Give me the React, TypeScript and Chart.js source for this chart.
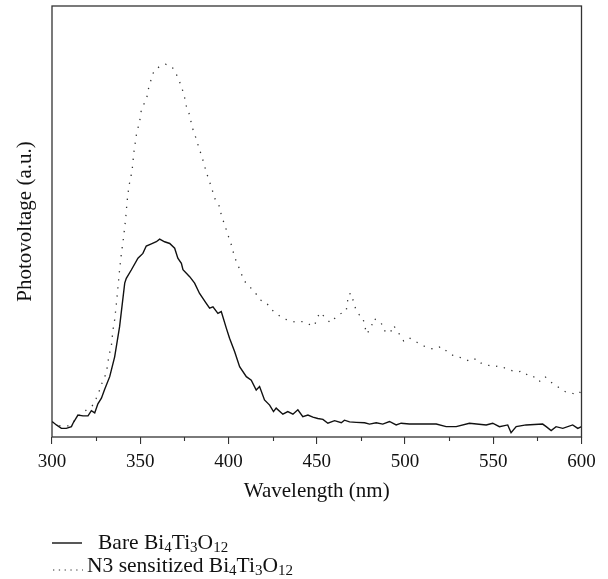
import React, { useEffect, useRef } from "react";
import { Chart, registerables } from "chart.js";

Chart.register(...registerables);

const FONT = "'Liberation Serif', 'Times New Roman', serif";

const xTickValues = [300, 350, 400, 450, 500, 550, 600];
const xMinorTickValues = [325, 375, 425, 475, 525, 575];

const bareWavelength = [300, 302.5, 305.3, 308.1, 311, 311.9, 314.7, 317.6, 320.4, 322.3, 324.2, 326, 328, 329.8, 332.7, 335.5, 338.3, 341.2, 342.1, 345, 348.7, 351.5, 353.4, 356.3, 359.1, 361, 363.8, 366.7, 369.5, 371.3, 373.3, 374.2, 378, 380.8, 383.6, 387.4, 389.3, 391.2, 394, 395.9, 398.8, 400.6, 403.5, 406.3, 410.1, 412.9, 415.7, 417.6, 420.4, 423.3, 425.5, 427, 430.8, 433.6, 436.5, 439.3, 442.1, 445, 447.8, 450.6, 453.5, 456.3, 460.1, 463.9, 465.7, 468.6, 472.4, 477.1, 479.9, 483.7, 487.4, 491.2, 495, 497.8, 502.5, 510, 517.7, 523.3, 529, 536.5, 546, 549.7, 553.5, 558.2, 560.1, 563, 568.6, 578, 580, 582.8, 585.6, 589.4, 595, 597.9, 600];
const bareValues = [3.6, 2.8, 2.0, 2.0, 2.4, 3.2, 5.1, 4.9, 4.9, 6.1, 5.6, 7.7, 9.0, 11.0, 14.0, 18.6, 25.6, 35.7, 36.8, 38.8, 41.5, 42.6, 44.3, 44.8, 45.3, 45.9, 45.3, 44.9, 43.8, 41.5, 40.3, 38.8, 37.2, 35.7, 33.3, 31.0, 29.9, 30.2, 28.7, 29.1, 25.2, 22.9, 19.8, 16.3, 14.0, 13.2, 10.9, 11.7, 8.6, 7.4, 5.9, 6.7, 5.3, 5.9, 5.3, 6.3, 4.7, 5.1, 4.6, 4.3, 4.1, 3.2, 3.8, 3.3, 3.9, 3.5, 3.4, 3.3, 3.0, 3.3, 3.0, 3.6, 2.8, 3.2, 3.0, 3.0, 3.0, 2.4, 2.4, 3.2, 2.8, 3.2, 2.4, 2.8, 1.0, 2.4, 2.8, 3.0, 2.4, 1.5, 2.4, 2.0, 2.8, 2.0, 2.4];

const n3Wavelength = [300, 305, 310, 315, 319.5, 323.2, 325.1, 327, 328.9, 330.8, 332.3, 333.6, 334.5, 335.5, 336.5, 337.4, 338.3, 339.3, 340.6, 341.7, 342.5, 343.6, 344.7, 345.5, 346.4, 347.8, 348.9, 350, 350.6, 352.5, 354, 354.8, 356.3, 357.8, 361.4, 364.2, 368, 370.4, 372.3, 373.8, 375.1, 376.1, 377.8, 378.9, 380.1, 381.8, 383.2, 384.9, 386.3, 387.6, 389.3, 390.8, 392.3, 395, 395.9, 398.2, 400, 401.6, 402.9, 404.4, 406.7, 408.5, 411.6, 414.8, 418, 421.4, 424.2, 427.6, 430.8, 435, 438.4, 442.1, 445.9, 448.7, 450.3, 452.2, 455, 457.8, 460.1, 462.9, 466.7, 467.3, 468.2, 469.7, 470.8, 472.4, 474.2, 476.1, 477.1, 478.4, 480.9, 482.4, 486.5, 488, 491.6, 493.5, 496.3, 499.2, 502, 505.4, 509.2, 513.3, 517.1, 520.5, 524.5, 528.6, 532.4, 536.9, 540.3, 543.5, 547.5, 549.7, 553.9, 558.8, 563, 566.7, 570.9, 574.3, 576.6, 579.6, 583.4, 587.1, 590.9, 595, 598.4, 600];
const n3Values = [3.5, 2.5, 2.6, 4.8, 6.3, 7.4, 9.0, 10.9, 13.2, 14.8, 19.0, 21.0, 24.8, 27.2, 31.0, 34.9, 38.8, 42.6, 46.5, 50.5, 54.4, 58.3, 60.3, 62.3, 66.1, 70.1, 72.0, 74.0, 75.9, 77.6, 79.2, 81.1, 83.1, 85.0, 86.1, 86.5, 85.9, 84.2, 82.4, 80.7, 78.8, 76.8, 74.9, 72.9, 71.0, 69.1, 67.1, 65.1, 63.1, 61.2, 59.2, 57.3, 55.3, 53.4, 51.5, 48.8, 46.5, 44.6, 42.6, 40.7, 38.6, 36.4, 35.0, 33.7, 31.8, 31.2, 29.6, 28.5, 27.5, 27.0, 26.6, 26.8, 26.1, 25.8, 27.8, 28.9, 27.5, 26.5, 27.5, 28.5, 29.2, 31.2, 33.2, 33.3, 31.3, 29.3, 28.3, 27.8, 25.8, 23.9, 25.6, 27.5, 26.5, 24.7, 24.1, 25.9, 24.2, 22.3, 23.1, 22.3, 21.4, 20.6, 20.4, 21.0, 19.6, 18.6, 18.4, 17.5, 18.2, 17.0, 16.6, 16.3, 16.5, 15.6, 15.1, 15.3, 13.9, 14.0, 12.8, 13.9, 12.5, 11.5, 10.5, 10.1, 9.9, 10.9];

type Part = { t: string; sub?: boolean };
const legendBare: Part[] = [{ t: "Bare Bi" }, { t: "4", sub: true }, { t: "Ti" }, { t: "3", sub: true }, { t: "O" }, { t: "12", sub: true }];
const legendN3: Part[] = [{ t: "N3 sensitized Bi" }, { t: "4", sub: true }, { t: "Ti" }, { t: "3", sub: true }, { t: "O" }, { t: "12", sub: true }];

export default function App() {
  const ref = useRef<HTMLCanvasElement>(null);

  useEffect(() => {
    const canvas = ref.current;
    if (!canvas) return;

    const framePlugin = {
      id: "frame",
      afterDraw(chart: any) {
        const { ctx, chartArea } = chart;
        const xs = chart.scales.x;
        ctx.save();
        ctx.strokeStyle = "#333";
        ctx.lineWidth = 1.3;
        ctx.strokeRect(chartArea.left, chartArea.top, chartArea.right - chartArea.left, chartArea.bottom - chartArea.top);
        ctx.lineWidth = 1.1;
        for (const v of xMinorTickValues) {
          const px = Math.round(xs.getPixelForValue(v)) + 0.5;
          ctx.beginPath();
          ctx.moveTo(px, chartArea.bottom);
          ctx.lineTo(px, chartArea.bottom + 4);
          ctx.stroke();
        }
        ctx.restore();
      },
    };

    const drawRich = (ctx: CanvasRenderingContext2D, parts: Part[], x: number, y: number) => {
      let cx = x;
      for (const p of parts) {
        ctx.font = p.sub ? `15px ${FONT}` : `21.5px ${FONT}`;
        ctx.fillText(p.t, cx, p.sub ? y + 3 : y);
        cx += ctx.measureText(p.t).width;
      }
    };

    const legendPlugin = {
      id: "customLegend",
      afterDraw(chart: any) {
        const { ctx, chartArea } = chart;
        const left = chartArea.left;
        ctx.save();
        ctx.fillStyle = "#111";
        ctx.textBaseline = "alphabetic";
        ctx.textAlign = "left";
        ctx.strokeStyle = "#111";
        ctx.lineWidth = 1.4;
        ctx.beginPath();
        ctx.moveTo(left, 543);
        ctx.lineTo(left + 30, 543);
        ctx.stroke();
        drawRich(ctx, legendBare, left + 46, 549);
        ctx.setLineDash([1.3, 4.5]);
        ctx.lineWidth = 1.2;
        ctx.strokeStyle = "#333";
        ctx.beginPath();
        ctx.moveTo(left + 1, 570);
        ctx.lineTo(left + 31, 570);
        ctx.stroke();
        ctx.setLineDash([]);
        drawRich(ctx, legendN3, left + 35, 572);
        ctx.restore();
      },
    };

    const chart = new Chart(canvas, {
      type: "line",
      data: {
        datasets: [
          {
            label: "Bare Bi4Ti3O12",
            data: bareWavelength.map((x, i) => ({ x, y: bareValues[i] })),
            borderColor: "#111",
            borderWidth: 1.4,
            pointRadius: 0,
            fill: false,
            tension: 0,
          },
          {
            label: "N3 sensitized Bi4Ti3O12",
            data: n3Wavelength.map((x, i) => ({ x, y: n3Values[i] })),
            borderColor: "#333",
            borderWidth: 1.3,
            borderDash: [1.3, 6.8],
            pointRadius: 0,
            fill: false,
            tension: 0,
          },
        ],
      },
      options: {
        responsive: false,
        animation: false,
        layout: { padding: { top: 6, right: 26.5, bottom: 0, left: 0 } },
        plugins: { legend: { display: false }, tooltip: { enabled: false } },
        scales: {
          x: {
            type: "linear",
            min: 300,
            max: 600,
            afterBuildTicks: (scale: any) => {
              scale.ticks = xTickValues.map((v) => ({ value: v }));
            },
            afterFit: (scale: any) => {
              scale.height = 142;
            },
            grid: { drawOnChartArea: false, drawTicks: true, tickLength: 7, color: "#333", lineWidth: 1.1 },
            border: { display: false },
            ticks: { font: { family: FONT, size: 19 }, color: "#111", padding: 7, maxRotation: 0 },
            title: {
              display: true,
              text: "Wavelength (nm)",
              font: { family: FONT, size: 21 },
              color: "#111",
              padding: { top: 0, bottom: 75 },
            },
          },
          y: {
            min: 0,
            max: 100,
            afterFit: (scale: any) => {
              scale.width = 52;
            },
            ticks: { display: false },
            grid: { display: false },
            border: { display: false },
            title: {
              display: true,
              text: "Photovoltage (a.u.)",
              font: { family: FONT, size: 21 },
              color: "#111",
              padding: { top: 13, bottom: 0 },
            },
          },
        },
      },
      plugins: [framePlugin, legendPlugin],
    });

    return () => chart.destroy();
  }, []);

  return (
    <div style={{ position: "absolute", left: 0, top: 0, width: 608, height: 579, background: "#fff" }}>
      <canvas ref={ref} width={608} height={579} style={{ display: "block" }} />
    </div>
  );
}
